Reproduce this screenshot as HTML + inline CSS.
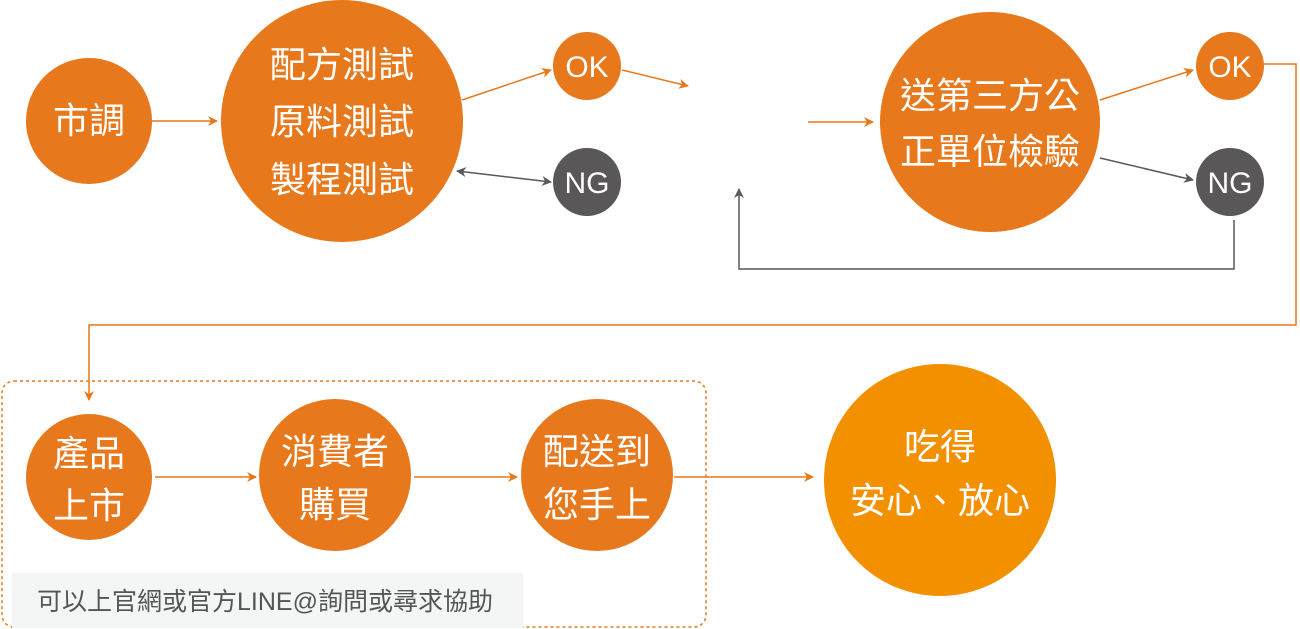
<!DOCTYPE html>
<html><head><meta charset="utf-8"><style>
html,body{margin:0;padding:0;background:#fff;}
svg{display:block;}
text{font-family:"Liberation Sans","Noto Sans CJK TC",sans-serif;fill:#fff;text-anchor:middle;}
</style></head><body>
<svg width="1300" height="629" viewBox="0 0 1300 629" xmlns="http://www.w3.org/2000/svg">
<defs>
<marker id="ao" markerWidth="10" markerHeight="10" refX="9" refY="5" orient="auto" markerUnits="userSpaceOnUse"><path d="M0,0 L10,5 L0,10 L3,5 z" fill="#e8781c"/></marker>
<marker id="ag" markerWidth="10" markerHeight="10" refX="9" refY="5" orient="auto-start-reverse" markerUnits="userSpaceOnUse"><path d="M0,0 L10,5 L0,10 L3,5 z" fill="#595757"/></marker>
</defs>
<g stroke="#e8781c" stroke-width="1.5" fill="none">
<line x1="152" y1="121" x2="217" y2="121" marker-end="url(#ao)"/>
<line x1="462" y1="100" x2="551" y2="70" marker-end="url(#ao)"/>
<line x1="622" y1="70" x2="688" y2="86" marker-end="url(#ao)"/>
<line x1="808" y1="122" x2="873" y2="122" marker-end="url(#ao)"/>
<line x1="1100" y1="100" x2="1193" y2="70" marker-end="url(#ao)"/>
<polyline points="1264,64 1296,64 1296,325 89,325 89,400" marker-end="url(#ao)"/>
<line x1="155" y1="477" x2="256" y2="477" marker-end="url(#ao)"/>
<line x1="414" y1="477" x2="517" y2="477" marker-end="url(#ao)"/>
<line x1="674" y1="477" x2="813" y2="477" marker-end="url(#ao)"/>
<rect x="2" y="381" width="704" height="246" rx="12" stroke-dasharray="3,3"/>
</g>
<g stroke="#595757" stroke-width="1.5" fill="none">
<line x1="457" y1="171" x2="551" y2="182" marker-start="url(#ag)" marker-end="url(#ag)"/>
<line x1="1100" y1="158" x2="1193" y2="180" marker-end="url(#ag)"/>
<polyline points="1234,220 1234,269 739,269 739,189" marker-end="url(#ag)"/>
</g>
<rect x="12" y="573" width="511" height="55" fill="#f4f6f6"/>
<text x="265" y="610" style="fill:#555;font-size:25px">可以上官網或官方LINE@詢問或尋求協助</text>
<g fill="#e8781c">
<ellipse cx="89" cy="121" rx="63" ry="63"/>
<ellipse cx="342" cy="121" rx="121" ry="121"/>
<circle cx="587" cy="66" r="34"/>
<ellipse cx="990" cy="122" rx="110" ry="110"/>
<circle cx="1230" cy="66" r="34"/>
<ellipse cx="89" cy="477" rx="63" ry="63"/>
<ellipse cx="335" cy="475" rx="76" ry="76"/>
<ellipse cx="597" cy="475" rx="76" ry="76"/>
</g>
<circle cx="587" cy="182" r="34" fill="#595757"/>
<circle cx="1230" cy="182" r="34" fill="#595757"/>
<circle cx="940" cy="480" r="116" fill="#f39000"/>
<g style="font-size:36px">
<text x="89" y="133">市調</text>
<text x="342" y="77">配方測試</text>
<text x="342" y="134">原料測試</text>
<text x="342" y="192">製程測試</text>
<text x="990" y="108">送第三方公</text>
<text x="990" y="164">正單位檢驗</text>
<text x="89" y="466">產品</text>
<text x="89" y="518">上市</text>
<text x="335" y="464">消費者</text>
<text x="335" y="517">購買</text>
<text x="597" y="464">配送到</text>
<text x="597" y="517">您手上</text>
<text x="940" y="459">吃得</text>
<text x="940" y="513">安心、放心</text>
</g>
<g style="font-size:30px">
<text x="587" y="77">OK</text>
<text x="587" y="193">NG</text>
<text x="1230" y="77">OK</text>
<text x="1230" y="193">NG</text>
</g>
</svg>
</body></html>
